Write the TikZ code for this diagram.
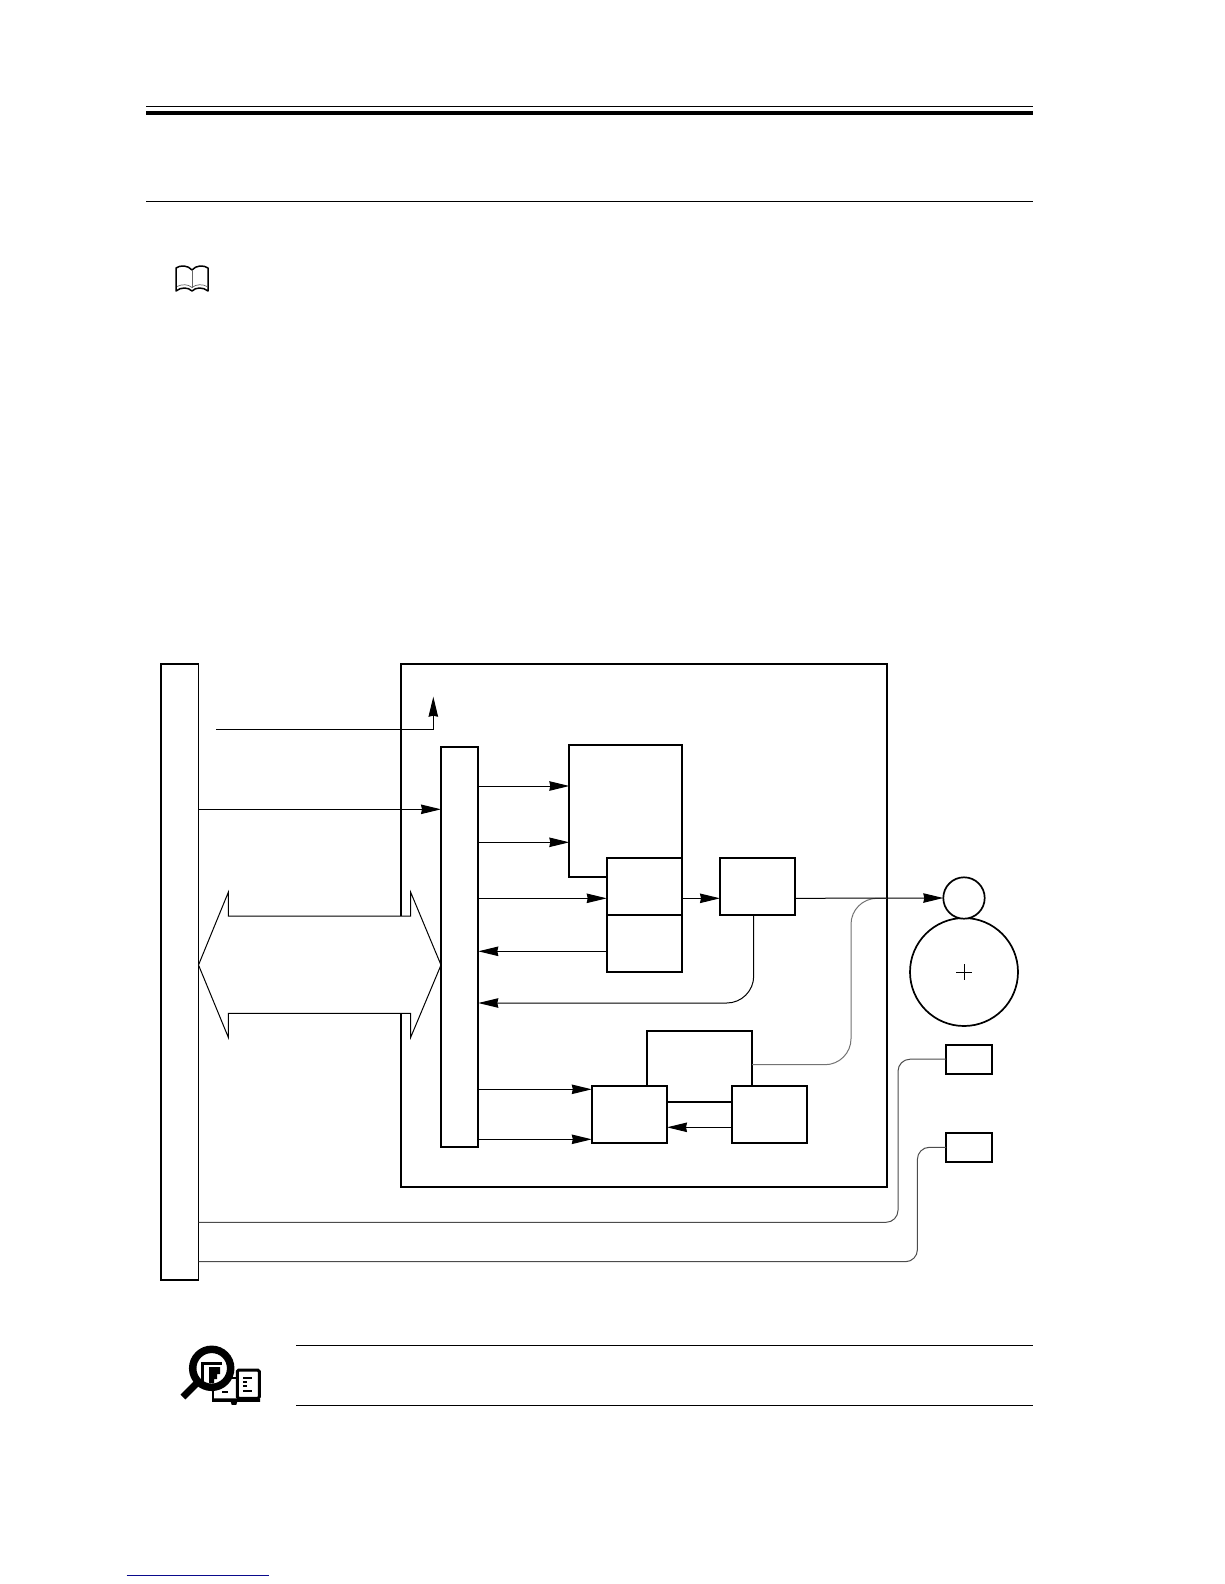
\documentclass[tikz,border=0pt]{standalone}
\usetikzlibrary{arrows.meta}
\tikzset{
  blockbox/.style={draw, fill=white, line width=1.9pt, inner sep=0pt, outer sep=0pt},
  roundbox/.style={draw, fill=white, circle, line width=1.7pt, inner sep=0pt, outer sep=0pt},
  sig/.style={line width=1pt, -{Stealth[length=20pt,width=9.5pt,inset=1pt]}},
  wire/.style={line width=1pt, black!70, rounded corners=12pt},
  softwire/.style={line width=1pt, black!55, rounded corners=26pt},
  rulethin/.style={line width=1pt},
}
\definecolor{linkblue}{RGB}{10,10,140}
\begin{document}
\begin{tikzpicture}[x=1pt,y=-1pt]
  \useasboundingbox (0,0) rectangle (1224,1584);

  % page rules
  \draw[rulethin] (146,106.5) -- (1033,106.5);
  \draw[line width=4.5pt] (146,113) -- (1033,113);
  \draw[rulethin] (146,201.3) -- (1033,201.3);
  \draw[rulethin] (296,1345) -- (1033,1345);
  \draw[rulethin] (296,1405) -- (1033,1405);
  \draw[linkblue, line width=1pt] (126.7,1575) -- (269,1575);

  % open book
  \draw[line width=1.5pt, line join=round] (192,270) .. controls (188,265) and (180,265) .. (176,268) -- (176,291)
    .. controls (181,287) and (188,287) .. (192,291) .. controls (196,287) and (203,287) .. (208,291)
    -- (208,268) .. controls (204,265) and (196,265) .. (192,270);
  \draw[line width=0.9pt, black!60] (192,270) -- (192,288);
  \draw[line width=0.7pt, black!60] (177,286.5) .. controls (182,284) and (188,284) .. (192,287.5) .. controls (196,284) and (203,284) .. (207,286.5);

  % magnifier and book
  \draw[line width=3pt, rounded corners=1.5pt] (237.3,1370) rectangle (259.3,1398.3);
  \draw[line width=2.5pt] (237,1378) -- (213,1378) -- (213,1400);
  \draw[line width=3.5pt] (212,1400) -- (236,1400) -- (235,1403) -- (233,1403) -- (232,1400) -- (260,1400);
  \draw[line width=2pt] (243,1377.5) -- (252,1377.5);
  \draw[line width=2pt] (243,1381.5) -- (247,1381.5);
  \draw[line width=2pt] (243,1385.5) -- (247,1385.5);
  \draw[line width=2pt] (243,1391) -- (252,1391);
  \draw[line width=2pt] (222,1392) -- (228,1392);
  \fill[white] (211.7,1368.3) circle (19);
  \draw[line width=7.5pt] (211.7,1368.3) circle (19);
  \draw[line width=7pt] (183,1397) -- (196,1384);
  \draw[line width=3pt] (202,1386) -- (202,1363) -- (222,1363);
  \fill (209,1367) -- (220,1367) -- (220,1374) -- (217,1374) -- (217,1379) -- (214,1379) -- (214,1383) -- (209,1383) -- cycle;

  % boxes
  \node[blockbox, minimum width=486.3pt, minimum height=523.3pt] (unit) at (643.85,925.65) {};
  \node[blockbox, minimum width=37.5pt, minimum height=616pt] (ctrl) at (179.75,972) {};
  \draw[line width=1pt, fill=white, line join=miter] (ctrl.east |- 0,965) -- (228.3,892.3) -- (228.3,916) -- (410.7,916) -- (410.7,892.3)
    -- (441,965) -- (410.7,1037.3) -- (410.7,1013.3) -- (228.3,1013.3) -- (228.3,1037.3) -- cycle;
  \node[blockbox, minimum width=37.3pt, minimum height=399.7pt] (gate) at (459.65,946.85) {};
  \node[blockbox, minimum width=113pt, minimum height=131.7pt] (store) at (625.8,810.85) {};
  \node[blockbox, minimum width=75.6pt, minimum height=57pt] (subup) at (644.5,886.2) {};
  \node[blockbox, minimum width=75.6pt, minimum height=57.3pt] (sublow) at (644.5,943.35) {};
  \node[blockbox, minimum width=75.3pt, minimum height=57pt] (driver) at (757.65,886.2) {};
  \node[blockbox, minimum width=105pt, minimum height=71pt] (midbox) at (699.5,1066.2) {};
  \node[blockbox, minimum width=75.2pt, minimum height=57pt] (lowleft) at (629.4,1114.5) {};
  \node[blockbox, minimum width=75.2pt, minimum height=57pt] (lowright) at (769.2,1114.5) {};
  \node[blockbox, minimum width=46pt, minimum height=29pt] (sensa) at (969,1059.2) {};
  \node[blockbox, minimum width=46pt, minimum height=29.3pt] (sensb) at (969,1147.3) {};
  \node[roundbox, minimum size=108pt] (drum) at (964,972) {};
  \node[roundbox, minimum size=41.4pt] (roller) at (964,898) {};
  \draw[line width=0.9pt] (drum.center) ++(-8,0) -- ++(16,0);
  \draw[line width=0.9pt] (drum.center) ++(0,-8) -- ++(0,16);

  % connectors
  \coordinate (upstart) at (216,729.3);
  \coordinate (uptip) at (433.3,696.7);
  \draw[sig] (upstart) -| (uptip);
  \draw[sig] (ctrl.east |- 0,809.3) -- (gate.west |- 0,809.3);
  \draw[sig] (gate.east |- 0,786) -- (store.west |- 0,786);
  \draw[sig] (gate.east |- 0,842.3) -- (store.west |- 0,842.3);
  \draw[sig] (gate.east |- 0,898.3) -- (subup.west |- 0,898.3);
  \draw[sig] (sublow.west |- 0,951.3) -- (gate.east |- 0,951.3);
  \draw[sig] (subup.east |- 0,898.3) -- (driver.west |- 0,898.3);
  \draw[softwire] (midbox.east |- 0,1064.7) -- (851,1064.7) -- (851,898.3) -- (unit.east |- 0,898.3);
  \draw[sig] (driver.east |- 0,898.3) -- (roller.west);
  \draw[sig, rounded corners=27pt] (753.7,914.7) -- (753.7,1003) -- (gate.east |- 0,1003);
  \draw[sig] (gate.east |- 0,1089.3) -- (lowleft.west |- 0,1089.3);
  \draw[sig] (gate.east |- 0,1139.3) -- (lowleft.west |- 0,1139.3);
  \draw[sig] (lowright.west |- 0,1127.3) -- (lowleft.east |- 0,1127.3);
  \draw[wire] (ctrl.east |- 0,1222.3) -- (898,1222.3) -- (898,1059.2) -- (sensa.west);
  \draw[wire] (ctrl.east |- 0,1261.7) -- (917.4,1261.7) -- (917.4,1147.3) -- (sensb.west);
\end{tikzpicture}
\end{document}
